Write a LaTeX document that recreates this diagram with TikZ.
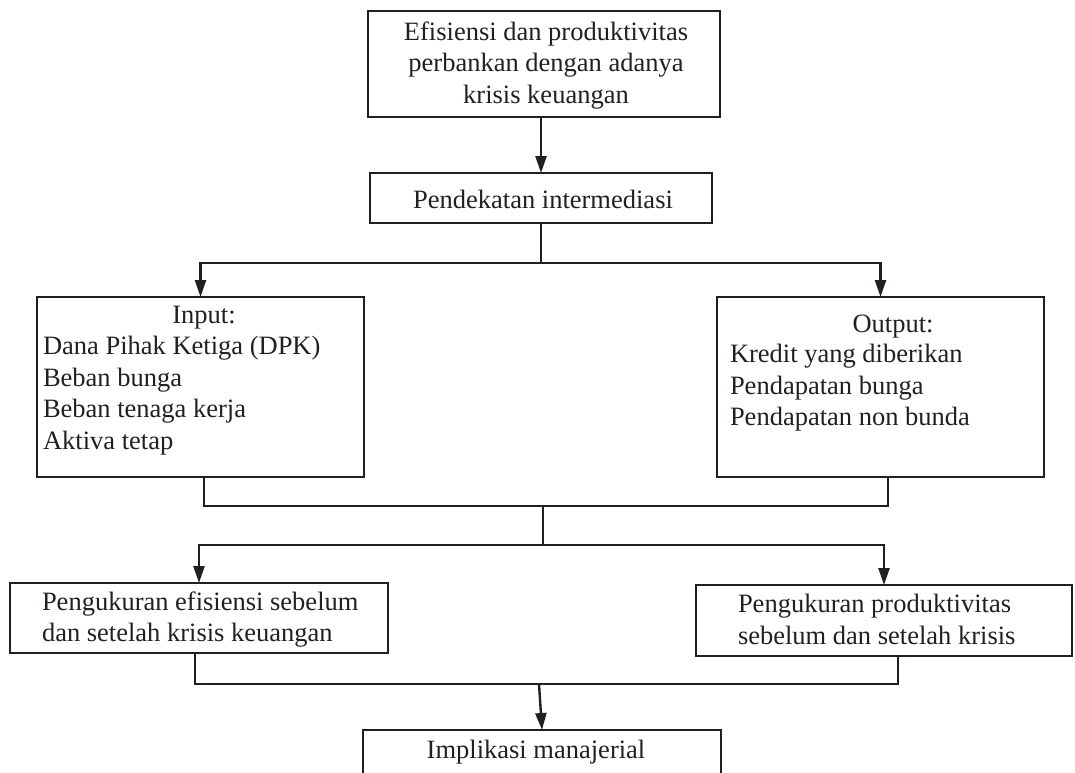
\documentclass[tikz,border=0pt]{standalone}
\usepackage{fontspec}
\setmainfont{Liberation Serif}
\usetikzlibrary{arrows.meta}
\definecolor{ink}{RGB}{35,31,32}
\begin{document}
\begin{tikzpicture}[x=1pt,y=-1pt,
  box/.style={draw=ink, line width=2.4pt, rectangle, inner sep=0pt, outer sep=0pt, anchor=north west},
  txt/.style={inner sep=0pt, outer sep=0pt, text=ink, font=\fontsize{26.5pt}{31.5pt}\selectfont},
  link/.style={draw=ink, line width=2.4pt},
  arr/.style={link, -{Triangle[length=17pt,width=11pt]}}]
\useasboundingbox (0,0) rectangle (1075,772);
\clip (0,0) rectangle (1075,772);

% boxes
\node[box, minimum width=352pt, minimum height=106pt] (top) at (368,11) {};
\node[box, minimum width=342pt, minimum height=50pt] (pend) at (370,173) {};
\node[box, minimum width=327pt, minimum height=180pt] (inp) at (37,297) {};
\node[box, minimum width=327pt, minimum height=180pt] (out) at (717,297) {};
\node[box, minimum width=378pt, minimum height=70pt] (eff) at (10,583) {};
\node[box, minimum width=376pt, minimum height=71pt] (prod) at (696,585) {};
\node[box, minimum width=358pt, minimum height=80pt] (impl) at (363,730) {};

% texts
\node[txt, anchor=north, align=center] (tTop) at (546,21.5)
  {Efisiensi dan produktivitas\\perbankan dengan adanya\\krisis keuangan};
\node[txt, anchor=base] (tPend) at (543,208) {Pendekatan intermediasi};
\node[txt, anchor=base] (tInH) at (204,323) {Input:};
\node[txt, anchor=north west, align=left] (tIn) at (43,336.5)
  {Dana Pihak Ketiga (DPK)\\Beban bunga\\Beban tenaga kerja\\Aktiva tetap};
\node[txt, anchor=base] (tOutH) at (893,332) {Output:};
\node[txt, anchor=north west, align=left] (tOut) at (730,344.5)
  {Kredit yang diberikan\\Pendapatan bunga\\Pendapatan non bunda};
\node[txt, anchor=north west, align=left] (tEff) at (42,591.5)
  {Pengukuran efisiensi sebelum\\dan setelah krisis keuangan};
\node[txt, anchor=north west, align=left] (tProd) at (738,594.5)
  {Pengukuran produktivitas\\sebelum dan setelah krisis};
\node[txt, anchor=base] (tImpl) at (536,758) {Implikasi manajerial};

% junction coordinates
\coordinate (s1) at (541,263);
\coordinate (jL) at (204,506);
\coordinate (jR) at (888,506);
\coordinate (m1) at (543,506);
\coordinate (s2) at (543,545);
\coordinate (kL) at (195,684);
\coordinate (kR) at (898,684);
\coordinate (m2) at (539,684);

% connectors
\draw[arr] (pend.north |- top.south) -- (pend.north);
\draw[link] (pend.south) -- (s1);
\draw[arr] (s1) -| (inp.north);
\draw[arr] (s1) -| (out.north);
\draw[link] (inp.south -| jL) -- (jL) -- (jR) -- (out.south -| jR);
\draw[link] (m1) -- (s2);
\draw[arr] (s2) -| (eff.north);
\draw[arr] (s2) -| (prod.north);
\draw[link] (eff.south -| kL) -- (kL) -- (kR) -- (prod.south -| kR);
\draw[arr] (m2) -- (impl.north);
\end{tikzpicture}
\end{document}
